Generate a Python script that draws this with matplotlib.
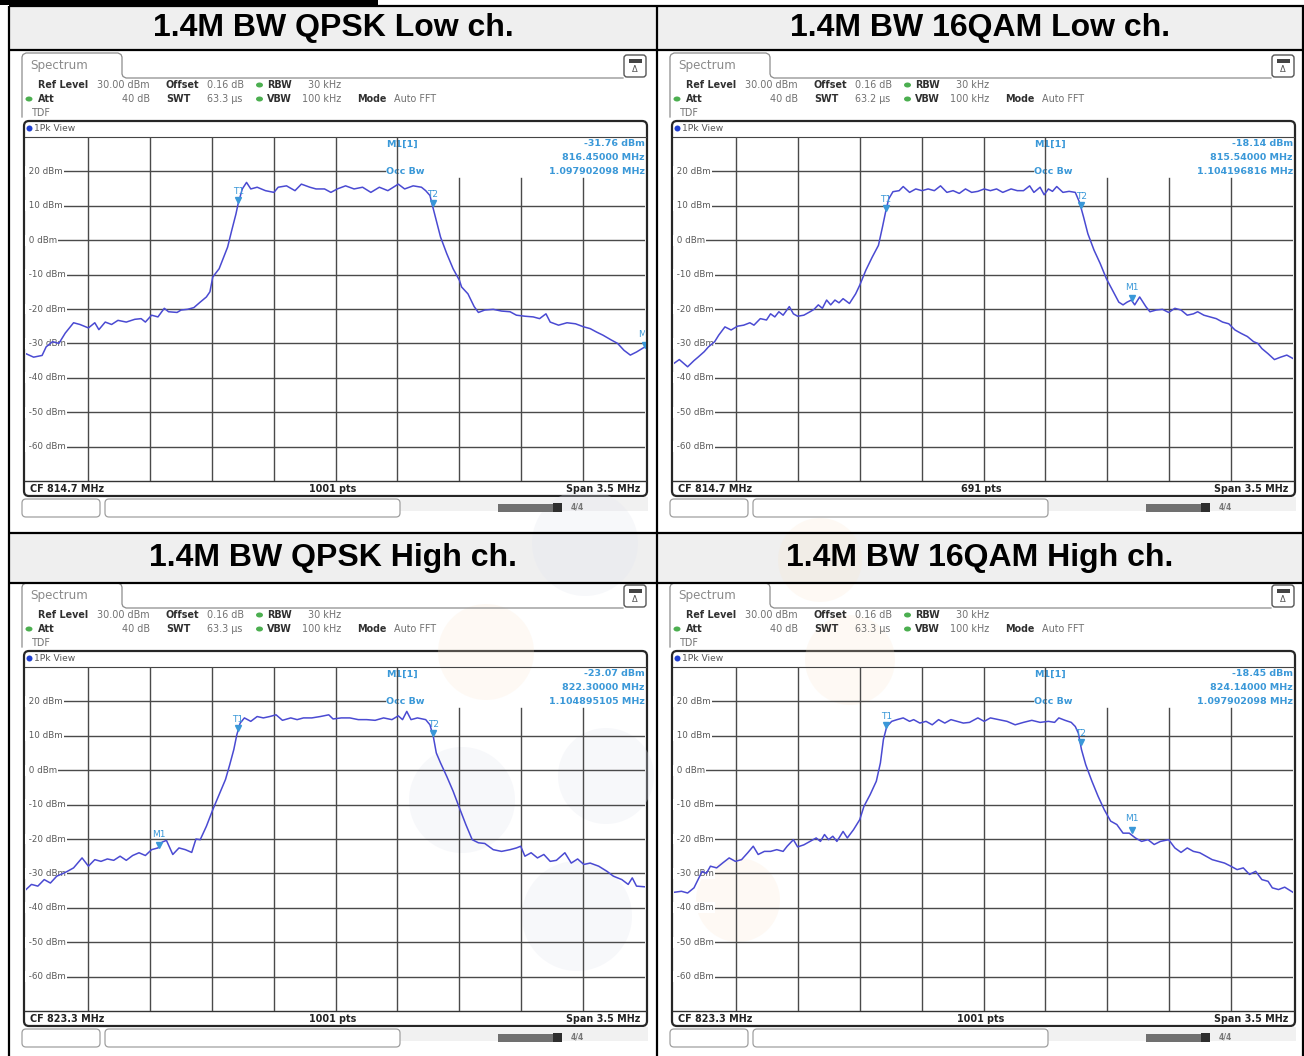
import numpy as np
import matplotlib
matplotlib.use("Agg")
import matplotlib.pyplot as plt
from matplotlib.patches import Rectangle, FancyBboxPatch, Ellipse, Circle
from matplotlib.transforms import blended_transform_factory

# ---------------- data ----------------
titles = ["1.4M BW QPSK Low ch.", "1.4M BW 16QAM Low ch.",
          "1.4M BW QPSK High ch.", "1.4M BW 16QAM High ch."]
center_freqs = [814.7, 814.7, 823.3, 823.3]
span_mhz = 3.5
ref_level = 30.00
sweep_points = [1001, 691, 1001, 1001]
swt_us = ["63.3", "63.2", "63.3", "63.3"]
m1_freq = [816.45, 815.54, 822.30, 824.14]
m1_level = [-31.76, -18.14, -23.07, -18.45]
occ_bw = [1.097902098, 1.104196816, 1.104895105, 1.097902098]
level_ticks = [20, 10, 0, -10, -20, -30, -40, -50, -60]

# frequency offsets from CF (MHz) and levels (dBm)
qpsk_low_offset = [-1.750, -1.707, -1.659, -1.636, -1.600, -1.564, -1.528, -1.481, -1.445, -1.397,
                   -1.361, -1.338, -1.302, -1.266, -1.230, -1.183, -1.135, -1.099, -1.075, -1.040,
                   -1.004, -0.968, -0.944, -0.896, -0.873, -0.837, -0.801, -0.765, -0.730, -0.710,
                   -0.694, -0.658, -0.610, -0.587, -0.563, -0.551, -0.527, -0.503, -0.479, -0.443,
                   -0.396, -0.348, -0.324, -0.277, -0.229, -0.193, -0.145, -0.110, -0.062, -0.026,
                   0.010, 0.057, 0.105, 0.153, 0.200, 0.248, 0.296, 0.355, 0.391, 0.439,
                   0.486, 0.510, 0.534, 0.546, 0.570, 0.594, 0.629, 0.665, 0.701, 0.713,
                   0.749, 0.784, 0.808, 0.844, 0.892, 0.939, 0.987, 1.023, 1.071, 1.118,
                   1.154, 1.190, 1.214, 1.261, 1.309, 1.357, 1.404, 1.440, 1.476, 1.512,
                   1.559, 1.595, 1.631, 1.667, 1.702, 1.750]
qpsk_low_level = [-33.0, -34.0, -33.5, -31.0, -29.5, -30.0, -27.0, -24.0, -24.5, -25.5,
                  -24.0, -26.0, -23.8, -24.5, -23.3, -23.8, -23.0, -22.8, -23.8, -21.8,
                  -22.3, -19.8, -20.8, -21.0, -20.3, -20.1, -19.6, -18.0, -16.5, -15.0,
                  -10.7, -8.3, -2.0, 2.8, 7.6, 10.5, 14.9, 16.8, 14.9, 15.4,
                  14.4, 13.9, 15.4, 15.8, 14.4, 16.3, 15.4, 14.9, 14.9, 13.9,
                  14.9, 15.8, 14.9, 15.4, 13.9, 15.4, 14.4, 16.3, 14.9, 15.8,
                  15.4, 14.4, 13.0, 10.5, 5.7, 0.9, -3.9, -8.3, -11.7, -13.6,
                  -15.6, -19.3, -21.0, -20.3, -20.1, -20.6, -20.8, -21.8, -22.1, -22.3,
                  -22.8, -21.4, -23.8, -24.7, -24.0, -24.3, -25.2, -25.7, -26.7, -27.6,
                  -29.0, -30.0, -32.0, -33.4, -32.5, -31.0]

qam16_low_offset = [-1.750, -1.720, -1.673, -1.637, -1.614, -1.579, -1.555, -1.520, -1.497, -1.462,
                    -1.427, -1.391, -1.356, -1.321, -1.298, -1.262, -1.227, -1.204, -1.180, -1.157,
                    -1.133, -1.098, -1.075, -1.051, -1.016, -0.981, -0.958, -0.934, -0.911, -0.887,
                    -0.864, -0.840, -0.817, -0.794, -0.758, -0.723, -0.700, -0.665, -0.629, -0.594,
                    -0.571, -0.552, -0.536, -0.512, -0.477, -0.454, -0.418, -0.383, -0.348, -0.313,
                    -0.278, -0.243, -0.207, -0.172, -0.137, -0.102, -0.067, -0.032, 0.004, 0.039,
                    0.074, 0.109, 0.156, 0.191, 0.226, 0.261, 0.285, 0.320, 0.343, 0.367,
                    0.390, 0.414, 0.449, 0.484, 0.519, 0.543, 0.566, 0.590, 0.625, 0.660,
                    0.695, 0.730, 0.765, 0.789, 0.812, 0.836, 0.855, 0.883, 0.918, 0.941,
                    0.976, 1.012, 1.047, 1.082, 1.117, 1.152, 1.187, 1.211, 1.246, 1.281,
                    1.316, 1.352, 1.387, 1.422, 1.457, 1.492, 1.527, 1.551, 1.574, 1.609,
                    1.645, 1.680, 1.715, 1.750]
qam16_low_level = [-35.8, -34.7, -36.8, -35.0, -34.0, -32.4, -31.0, -29.5, -27.6, -25.2,
                   -26.1, -25.0, -24.7, -24.0, -24.7, -22.8, -23.2, -21.4, -22.3, -20.8,
                   -21.8, -19.3, -21.4, -22.1, -21.8, -20.8, -20.1, -18.8, -19.8, -17.4,
                   -18.8, -17.4, -18.2, -17.0, -18.4, -15.6, -13.1, -8.7, -4.9, -1.5,
                   3.9, 8.6, 12.0, 14.1, 14.4, 15.6, 13.9, 14.9, 14.4, 14.9,
                   14.4, 15.8, 13.9, 14.4, 13.6, 14.9, 13.9, 14.2, 14.9, 14.4,
                   14.9, 13.9, 14.9, 14.4, 14.4, 15.8, 13.9, 15.4, 13.2, 14.9,
                   14.2, 15.6, 13.9, 14.2, 13.9, 11.0, 6.7, 1.9, -2.9, -6.8,
                   -11.2, -14.6, -18.0, -18.8, -18.0, -17.4, -18.8, -16.5, -19.3, -20.8,
                   -20.3, -20.1, -21.0, -19.8, -20.3, -21.8, -21.4, -20.8, -21.8, -22.3,
                   -22.8, -23.8, -24.3, -26.1, -27.1, -28.0, -29.5, -30.0, -31.5, -33.0,
                   -34.7, -34.0, -33.4, -34.4]

qpsk_high_offset = [-1.750, -1.719, -1.683, -1.647, -1.612, -1.576, -1.540, -1.516, -1.481, -1.433,
                    -1.397, -1.361, -1.326, -1.290, -1.254, -1.218, -1.183, -1.147, -1.111, -1.075,
                    -1.040, -1.004, -0.980, -0.956, -0.920, -0.885, -0.849, -0.813, -0.789, -0.765,
                    -0.730, -0.694, -0.658, -0.622, -0.598, -0.575, -0.558, -0.539, -0.515, -0.479,
                    -0.443, -0.408, -0.372, -0.336, -0.300, -0.253, -0.217, -0.181, -0.134, -0.086,
                    -0.038, -0.014, 0.033, 0.081, 0.129, 0.176, 0.224, 0.272, 0.319, 0.355,
                    0.379, 0.403, 0.427, 0.463, 0.510, 0.534, 0.553, 0.570, 0.594, 0.629,
                    0.665, 0.701, 0.737, 0.773, 0.808, 0.844, 0.892, 0.939, 0.987, 1.023,
                    1.047, 1.071, 1.106, 1.142, 1.178, 1.214, 1.249, 1.297, 1.333, 1.369,
                    1.404, 1.440, 1.488, 1.535, 1.571, 1.619, 1.655, 1.678, 1.702, 1.750]
qpsk_high_level = [-34.7, -33.2, -33.7, -31.8, -32.8, -30.8, -30.0, -29.4, -28.4, -25.5,
                   -27.9, -26.0, -26.5, -25.8, -26.2, -25.0, -26.2, -24.8, -24.0, -24.8,
                   -23.1, -22.6, -20.9, -20.4, -24.5, -22.6, -23.1, -23.9, -20.0, -20.2,
                   -16.3, -11.5, -7.1, -2.7, 1.6, 6.0, 10.3, 13.7, 15.2, 14.2,
                   15.6, 15.2, 15.6, 16.1, 14.5, 15.2, 14.7, 15.2, 15.2, 15.6,
                   16.1, 14.9, 15.2, 15.2, 14.7, 14.7, 14.5, 15.2, 14.7, 15.8,
                   14.7, 17.1, 14.7, 15.2, 14.7, 13.2, 9.8, 5.0, 2.1, -1.8,
                   -6.1, -11.0, -15.8, -20.2, -21.1, -21.3, -23.1, -23.6, -23.1, -22.6,
                   -22.1, -25.0, -24.0, -25.5, -24.5, -26.5, -26.2, -24.0, -27.0, -25.8,
                   -27.4, -27.0, -27.9, -29.4, -30.8, -31.8, -33.2, -31.3, -33.7, -33.9]

qam16_high_offset = [-1.750, -1.708, -1.673, -1.637, -1.614, -1.591, -1.567, -1.544, -1.509, -1.473,
                     -1.438, -1.403, -1.368, -1.333, -1.302, -1.274, -1.239, -1.204, -1.169, -1.133,
                     -1.110, -1.075, -1.051, -1.016, -0.981, -0.946, -0.922, -0.899, -0.876, -0.852,
                     -0.829, -0.794, -0.770, -0.735, -0.700, -0.676, -0.641, -0.606, -0.583, -0.566,
                     -0.547, -0.519, -0.489, -0.454, -0.418, -0.395, -0.360, -0.325, -0.290, -0.254,
                     -0.219, -0.184, -0.149, -0.114, -0.079, -0.032, 0.004, 0.039, 0.086, 0.133,
                     0.179, 0.226, 0.273, 0.320, 0.367, 0.402, 0.426, 0.461, 0.496, 0.519,
                     0.536, 0.554, 0.578, 0.613, 0.648, 0.683, 0.719, 0.754, 0.789, 0.824,
                     0.859, 0.894, 0.930, 0.965, 1.000, 1.047, 1.082, 1.117, 1.152, 1.187,
                     1.223, 1.258, 1.293, 1.328, 1.363, 1.398, 1.434, 1.469, 1.504, 1.539,
                     1.574, 1.609, 1.633, 1.668, 1.703, 1.750]
qam16_high_level = [-35.5, -35.2, -35.7, -34.2, -31.8, -29.4, -30.0, -27.9, -28.4, -26.9,
                    -25.5, -26.5, -26.0, -24.0, -22.1, -24.5, -23.6, -23.6, -23.1, -23.6,
                    -22.1, -20.2, -22.3, -21.7, -20.7, -19.7, -20.7, -18.7, -20.2, -19.2,
                    -20.7, -17.8, -19.7, -17.3, -14.4, -10.5, -7.1, -3.2, 2.1, 8.9,
                    12.7, 14.2, 14.7, 15.2, 14.2, 14.7, 13.7, 14.2, 13.2, 14.7,
                    13.7, 14.7, 14.2, 13.7, 13.9, 15.2, 14.2, 15.2, 14.7, 14.2,
                    13.2, 13.9, 14.5, 13.9, 14.2, 13.9, 15.2, 14.5, 13.9, 12.7,
                    10.8, 6.0, 1.6, -3.2, -7.6, -11.5, -14.8, -15.8, -18.3, -18.3,
                    -19.7, -20.7, -20.2, -21.6, -20.7, -20.2, -22.6, -23.9, -22.6, -23.6,
                    -24.0, -25.0, -26.0, -26.5, -27.0, -27.9, -28.9, -28.4, -30.3, -29.4,
                    -31.8, -32.3, -34.2, -34.7, -34.0, -35.5]

traces = [(qpsk_low_offset, qpsk_low_level), (qam16_low_offset, qam16_low_level),
          (qpsk_high_offset, qpsk_high_level), (qam16_high_offset, qam16_high_level)]

# ---------------- figure ----------------
W, H = 1304, 1056
fig = plt.figure(figsize=(W / 100, H / 100), dpi=100)
fig.patch.set_facecolor("white")
bg = fig.add_axes([0, 0, 1, 1])
bg.set_xlim(0, W)
bg.set_ylim(H, 0)
bg.axis("off")

TITLE_BG = "#efefef"
MK = "#3a98d8"
TRACE = "#4a4ad2"
GRID = "#4a4a4a"

bg.add_patch(Rectangle((0, 0), 378, 5, fc="black", ec="none", zorder=5))
for (x0, y0, x1, y1) in [(9, 6, 1304, 50), (9, 533, 1304, 583)]:
    bg.add_patch(Rectangle((x0, y0), x1 - x0, y1 - y0, fc=TITLE_BG, ec="none", zorder=0.5))
for y in (6, 50, 533, 583):
    bg.plot([9, 1304], [y, y], color="black", lw=1.6, solid_capstyle="butt", zorder=6)
for x in (9, 657, 1303):
    bg.plot([x, x], [6, 1056], color="black", lw=1.6, solid_capstyle="butt", zorder=6)

title_pos = [(333, 28), (980, 28), (333, 558), (980, 558)]
for t, (tx, ty) in zip(titles, title_pos):
    bg.text(tx, ty, t, ha="center", va="center", fontsize=23, fontweight="bold",
            family="Liberation Sans", color="black", zorder=6)

origins = [(0, 0), (648, 0), (0, 530), (648, 530)]


def draw_panel(k, ox, oy):
    cf = center_freqs[k]
    X = lambda v: v + ox
    Y = lambda v: v + oy
    gray = "#8c8c8c"
    # tab outline
    tab_x = [22, 22, 23, 26, 118, 121, 122, 122, 123, 126, 623]
    tab_y = [117, 57, 54.5, 53, 53, 54.5, 57, 74, 76.5, 78, 78]
    bg.plot([X(v) for v in tab_x], [Y(v) for v in tab_y], color=gray, lw=0.9, zorder=2)
    bg.text(X(30), Y(66), "Spectrum", color="#8a8a8a", fontsize=8.6, va="center", zorder=3)
    # icon
    bg.add_patch(FancyBboxPatch((X(624), Y(55)), 22, 22, boxstyle="round,pad=0,rounding_size=3",
                                fc="white", ec="#555555", lw=1.0, zorder=2))
    bg.add_patch(Rectangle((X(628.5), Y(58.5)), 13, 4, fc="#444444", ec="none", zorder=3))
    bg.text(X(635), Y(70), "Δ", fontsize=6, ha="center", va="center", color="#555555", zorder=3)

    lab = dict(fontsize=6.9, fontweight="bold", color="#303030", va="center", zorder=3)
    val = dict(fontsize=6.9, color="#707070", va="center", zorder=3)
    bg.text(X(38), Y(85), "Ref Level", **lab)
    bg.text(X(150), Y(85), f"{ref_level:.2f} dBm", ha="right", **val)
    bg.text(X(166), Y(85), "Offset", **lab)
    bg.text(X(207), Y(85), "0.16 dB", **val)
    bg.text(X(267), Y(85), "RBW", **lab)
    bg.text(X(341), Y(85), "30 kHz", ha="right", **val)
    bg.text(X(38), Y(99), "Att", **lab)
    bg.text(X(150), Y(99), "40 dB", ha="right", **val)
    bg.text(X(166), Y(99), "SWT", **lab)
    bg.text(X(207), Y(99), f"{swt_us[k]} µs", **val)
    bg.text(X(267), Y(99), "VBW", **lab)
    bg.text(X(341), Y(99), "100 kHz", ha="right", **val)
    bg.text(X(357), Y(99), "Mode", **lab)
    bg.text(X(394), Y(99), "Auto FFT", **val)
    bg.text(X(32), Y(113), "TDF", **val)
    for (ex, ey) in [(259.5, 85), (259.5, 99), (29, 99)]:
        bg.add_patch(Ellipse((X(ex), Y(ey)), 7, 5, fc="#4caf50", ec="none", zorder=3))

    # trace window frame
    bg.add_patch(FancyBboxPatch((X(24), Y(121)), 623, 375, boxstyle="round,pad=0,rounding_size=5",
                                fc="white", ec="#262626", lw=1.6, zorder=1))
    bg.add_patch(Circle((X(29.5), Y(128.5)), 3, fc="#1f3fd0", ec="none", zorder=3))
    bg.text(X(34), Y(128.5), "1Pk View", fontsize=6.6, color="#555555", va="center", zorder=3)
    bg.plot([X(25), X(646)], [Y(137), Y(137)], color="#444444", lw=0.8, zorder=2)
    bg.plot([X(25), X(646)], [Y(481), Y(481)], color="#333333", lw=1.0, zorder=2)
    foot = dict(fontsize=6.9, fontweight="bold", color="#222222", va="center", zorder=3)
    bg.text(X(30), Y(488.5), f"CF {cf} MHz", **foot)
    bg.text(X(333), Y(488.5), f"{sweep_points[k]} pts", ha="center", **foot)
    bg.text(X(640), Y(488.5), f"Span {span_mhz} MHz", ha="right", **foot)

    # status bar below
    bg.add_patch(Rectangle((X(400), Y(497)), 248, 14, fc="#f1f1f1", ec="none", zorder=1))
    for (bx, bw) in [(22, 78), (105, 295)]:
        bg.add_patch(FancyBboxPatch((X(bx), Y(499)), bw, 18, boxstyle="round,pad=0,rounding_size=4",
                                    fc="white", ec="#a0a0a0", lw=0.9, zorder=2))
    bg.add_patch(Rectangle((X(498), Y(503.5)), 56, 8, fc="#707070", ec="none", zorder=2))
    bg.add_patch(Rectangle((X(553), Y(503)), 9, 9, fc="#2e2e2e", ec="none", zorder=2))
    bg.text(X(577), Y(507.5), "4/4", fontsize=5.5, color="#777777", fontweight="bold",
            ha="center", va="center", zorder=3)

    # marker info
    mk = dict(fontsize=6.8, color=MK, va="center", zorder=3, fontweight="bold")
    bg.text(X(386), Y(144), "M1[1]", **mk)
    bg.text(X(645), Y(144), f"{m1_level[k]:.2f} dBm", ha="right", **mk)
    bg.text(X(645), Y(157.5), f"{m1_freq[k]:.5f} MHz", ha="right", **mk)
    bg.text(X(386), Y(171), "Occ Bw", **mk)
    bg.text(X(645), Y(171), f"{occ_bw[k]:.9f} MHz", ha="right", **mk)

    # data axes
    ax = fig.add_axes([(26 + ox) / W, 1 - (481 + oy) / H, 619 / W, 344 / H])
    ax.set_xlim(cf - span_mhz / 2, cf + span_mhz / 2)
    ax.set_ylim(-70, 30)
    ax.axis("off")
    divs = cf + np.linspace(-span_mhz / 2, span_mhz / 2, 11)
    for j, xv in enumerate(divs[1:-1], start=1):
        ax.axvline(xv, 0, 0.881 if j >= 7 else 1, color=GRID, lw=1.0, zorder=1)
    tr = blended_transform_factory(ax.transAxes, ax.transData)
    for lv in level_ticks:
        ax.axhline(lv, 0, 0.58 if lv == 20 else 1, color=GRID, lw=1.0, zorder=1)
        ax.text(0.0, lv, f" {lv} dBm", transform=tr, fontsize=6.3, color="#5a5a5a",
                va="center", ha="left", zorder=2,
                bbox=dict(fc="white", ec="none", pad=0.6))
    offs, levs = traces[k]
    f = cf + np.asarray(offs)
    levs = np.asarray(levs)
    ax.plot(f, levs, color=TRACE, lw=1.1, zorder=3)

    for name, fx in (("T1", cf - occ_bw[k] / 2), ("T2", cf + occ_bw[k] / 2)):
        lv = np.interp(fx, f, levs)
        ax.plot([fx], [lv + 0.9], marker="v", ms=4.5, color=MK, zorder=4, clip_on=False)
        ax.text(fx, lv + 3.3, name, fontsize=6.5, color=MK, ha="center", va="center", zorder=4)
    ax.plot([m1_freq[k]], [m1_level[k] + 1.2], marker="v", ms=4.5, color=MK, zorder=4)
    ax.text(m1_freq[k], m1_level[k] + 4.3, "M1", fontsize=6.5, color=MK, ha="center",
            va="center", zorder=4, clip_on=True)


for k, (ox, oy) in enumerate(origins):
    draw_panel(k, ox, oy)

# faint background watermark (logo circles)
for (cx, cy, r) in [(585, 543, 53), (462, 800, 53), (577, 916, 55), (606, 776, 48)]:
    bg.add_patch(Circle((cx, cy), r, fc="#e3e6f0", ec="none", alpha=0.28, zorder=1.5))
for (cx, cy, r) in [(486, 652, 48), (738, 900, 42), (850, 660, 45), (820, 560, 42)]:
    bg.add_patch(Circle((cx, cy), r, fc="#fbe7cf", ec="none", alpha=0.22, zorder=1.5))

fig.savefig("out.png", dpi=100, facecolor="white")
